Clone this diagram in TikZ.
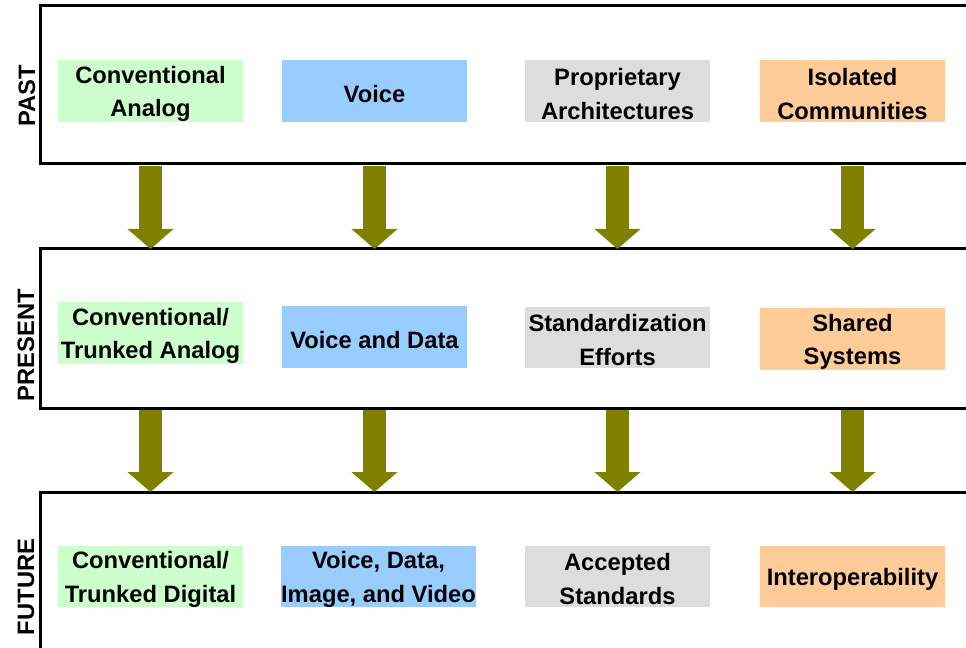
\documentclass[tikz,border=0pt]{standalone}
\usepackage{fontspec}
\setmainfont{Liberation Sans}
\usepackage{tikz}
\usetikzlibrary{arrows.meta}

\definecolor{boxgreen}{HTML}{CCFFCC}
\definecolor{boxblue}{HTML}{99CCFF}
\definecolor{boxgray}{HTML}{DDDDDD}
\definecolor{boxorange}{HTML}{FFCC99}
\definecolor{arrowolive}{HTML}{808000}
% taller first line, so the text sits a little lower in its box
\newcommand{\lift}{\rule{0pt}{17pt}}

\begin{document}
\begin{tikzpicture}[x=0.75pt,y=-0.75pt,
  lbl/.style={font=\fontsize{17.8}{25.2}\selectfont\bfseries,align=center,inner sep=0pt},
  box/.style={lbl,minimum width=138.75pt,minimum height=46.5pt},
  side/.style={lbl,rotate=90},
  frame/.style={draw,line width=2.25pt,inner sep=0pt,outer sep=0pt},
  move/.style={arrowolive,line width=17.25pt,shorten <=1.2pt,-{Triangle[length=15pt,width=33.75pt]}}]
  \useasboundingbox (0,0) rectangle (966,648);
  \clip (0,0) rectangle (966,648);
  % rows
  \node[frame,minimum width=727.5pt,minimum height=118.5pt] (past) at (525,85) {};
  \node[frame,minimum width=727.5pt,minimum height=119.25pt] (present) at (525,328.5) {};
  \node[frame,minimum width=727.5pt,minimum height=156pt] (future) at (525,596) {};
  \node[side] (tpast) at (27,96) {PAST};
  \node[side] (tpresent) at (26,345) {PRESENT};
  \node[side] (tfuture) at (26,587) {FUTURE};
  % past
  \node[box,fill=boxgreen] (p1) at (150.5,91) {\lift Conventional\\Analog};
  \node[box,fill=boxblue] (p2) at (374.5,91) {\lift Voice};
  \node[box,fill=boxgray] (p3) at (617.5,91) {\lift Proprietary\\Architectures};
  \node[box,fill=boxorange] (p4) at (852.5,91) {\lift Isolated\\Communities};
  % present
  \node[box,fill=boxgreen,minimum height=45pt] (n1) at (150.5,333) {\lift Conventional/\\Trunked Analog};
  \node[box,fill=boxblue] (n2) at (374.5,337) {\lift Voice and Data};
  \node[box,fill=boxgray,minimum height=45.75pt] (n3) at (617.5,337.5) {\lift Standardization\\Efforts};
  \node[box,fill=boxorange] (n4) at (852.5,339) {\lift Shared\\Systems};
  % future
  \node[box,fill=boxgreen,minimum height=45.75pt] (f1) at (150.5,576.5) {\lift Conventional/\\Trunked Digital};
  \node[box,fill=boxblue,minimum width=144.75pt,minimum height=45.75pt] (f2) at (378.5,576.5) {\lift Voice, Data,\\Image, and Video};
  \node[box,fill=boxgray,minimum height=45.75pt] (f3) at (617.5,576.5) {\lift Accepted\\Standards};
  \node[box,fill=boxorange,minimum height=45.75pt] (f4) at (852.5,576.5) {\lift Interoperability};
  % arrows
  \foreach \c in {p1,p2,p3,p4} {
    \draw[move] (past.south -| \c) -- (present.north -| \c);
    \draw[move] (present.south -| \c) -- (future.north -| \c);
  }
\end{tikzpicture}
\end{document}
